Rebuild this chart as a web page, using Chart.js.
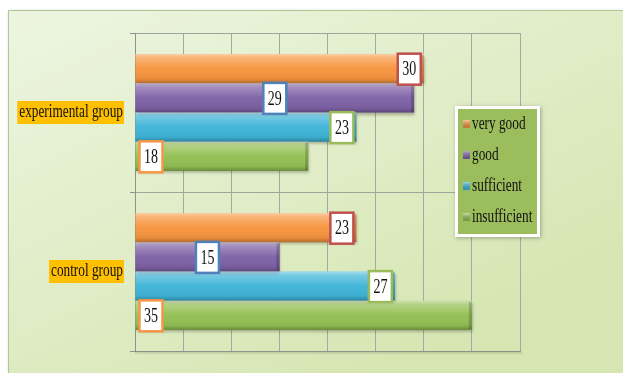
<!DOCTYPE html>
<html>
<head>
<meta charset="utf-8">
<script src="https://cdn.jsdelivr.net/npm/chart.js@4"></script>
<style>
  html, body { margin: 0; padding: 0; background: #fff; }
</style>
</head>
<body>
<canvas id="gradeChart" width="623" height="373"></canvas>
<script>
// groups on the category axis, grades as series
const groups = ['experimental group', 'control group'];
const grades = ['very good', 'good', 'sufficient', 'insufficient'];
const veryGood = [30, 23];
const good = [29, 15];
const sufficient = [23, 27];
const insufficient = [18, 35];
const xTicks = [0, 5, 10, 15, 20, 25, 30, 35, 40];

const barColors = ['#f7953f', '#7f62a6', '#3fb5d8', '#94c054'];
const boxBorders = ['#c0504d', '#4f81bd', '#9bbb59', '#f79646'];
const labelAnchor = ['end', 'center', 'end', 'start'];

const SERIF = '"Liberation Serif", "DejaVu Serif", serif';
const SQUEEZE = 0.7;

// Times-style text drawn narrower, like the original office chart
function squeezedText(ctx, text, x, y, align) {
    ctx.save();
    ctx.translate(x, y);
    ctx.scale(SQUEEZE, 1);
    ctx.textAlign = align;
    ctx.textBaseline = 'middle';
    ctx.fillText(text, 0, 0);
    ctx.restore();
}

const backdrop = {
    id: 'backdrop',
    beforeDraw(chart) {
        const ctx = chart.ctx;
        ctx.save();
        ctx.fillStyle = '#fff';
        ctx.fillRect(0, 0, chart.width, chart.height);
        const g = ctx.createLinearGradient(8, 10, 220, chart.height + 80);
        g.addColorStop(0, '#edf5e1');
        g.addColorStop(1, '#d6e6b2');
        ctx.shadowColor = 'rgba(0,0,0,0.25)';
        ctx.shadowBlur = 3;
        ctx.shadowOffsetX = 1;
        ctx.shadowOffsetY = 1;
        ctx.fillStyle = g;
        ctx.fillRect(8, 10, chart.width, chart.height);
        ctx.shadowColor = 'transparent';
        ctx.strokeStyle = '#aec795';
        ctx.lineWidth = 1;
        ctx.beginPath();
        ctx.moveTo(8.5, chart.height);
        ctx.lineTo(8.5, 10.5);
        ctx.lineTo(chart.width, 10.5);
        ctx.stroke();
        ctx.restore();
    }
};

const barStyle = {
    id: 'barStyle',
    beforeDatasetsDraw(chart) {
        const ctx = chart.ctx;
        ctx.save();
        ctx.shadowColor = 'rgba(0,0,0,0.3)';
        ctx.shadowBlur = 3;
        ctx.shadowOffsetX = 1;
        ctx.shadowOffsetY = 2;
    },
    afterDatasetsDraw(chart) {
        const ctx = chart.ctx;
        ctx.restore();

        // glossy shading on every bar
        chart.data.datasets.forEach((ds, di) => {
            chart.getDatasetMeta(di).data.forEach(bar => {
                const top = bar.y - bar.height / 2;
                const left = Math.min(bar.base, bar.x);
                const w = Math.abs(bar.x - bar.base);
                const g = ctx.createLinearGradient(0, top, 0, top + bar.height);
                g.addColorStop(0, 'rgba(255,255,255,0.55)');
                g.addColorStop(0.12, 'rgba(255,255,255,0.3)');
                g.addColorStop(0.5, 'rgba(255,255,255,0.02)');
                g.addColorStop(0.85, 'rgba(0,0,0,0.06)');
                g.addColorStop(1, 'rgba(0,0,0,0.28)');
                ctx.fillStyle = g;
                ctx.fillRect(left, top, w, bar.height);
                ctx.fillStyle = 'rgba(0,0,0,0.18)';
                ctx.fillRect(bar.x - 3, top + 1, 3, bar.height - 2);
            });
        });

        // value boxes
        chart.data.datasets.forEach((ds, di) => {
            chart.getDatasetMeta(di).data.forEach((bar, i) => {
                const text = String(ds.data[i]);
                ctx.font = '20px ' + SERIF;
                const w = ctx.measureText(text).width * SQUEEZE + 9;
                const h = 31;
                let cx;
                if (labelAnchor[di] === 'end') cx = bar.x - 3 - w / 2;
                else if (labelAnchor[di] === 'start') cx = bar.base + 4 + w / 2;
                else cx = (bar.x + bar.base) / 2;
                const cy = bar.y + 0.5;
                ctx.save();
                ctx.fillStyle = '#fff';
                ctx.fillRect(cx - w / 2, cy - h / 2, w, h);
                ctx.strokeStyle = boxBorders[di];
                ctx.lineWidth = 2.5;
                ctx.strokeRect(cx - w / 2, cy - h / 2, w, h);
                ctx.fillStyle = '#111';
                squeezedText(ctx, text, cx, cy + 1, 'center');
                ctx.restore();
            });
        });
    }
};

const groupLabels = {
    id: 'groupLabels',
    afterDraw(chart) {
        const ctx = chart.ctx;
        const yScale = chart.scales.y;
        const right = chart.chartArea.left - 12;
        ctx.save();
        ctx.font = '19px ' + SERIF;
        groups.forEach((g, i) => {
            const y = yScale.getPixelForValue(i);
            const w = ctx.measureText(g).width * SQUEEZE;
            ctx.fillStyle = '#ffc000';
            ctx.fillRect(right - w - 2, y - 11.5, w + 3, 23);
            ctx.fillStyle = '#111';
            squeezedText(ctx, g, right, y, 'right');
        });

        // faint shadow under the value axis
        const a = chart.chartArea;
        const s = ctx.createLinearGradient(0, a.bottom, 0, a.bottom + 4);
        s.addColorStop(0, 'rgba(0,0,0,0.18)');
        s.addColorStop(1, 'rgba(0,0,0,0)');
        ctx.fillStyle = s;
        ctx.fillRect(a.left, a.bottom + 1, a.right - a.left + 2, 4);
        ctx.restore();
    }
};

const gradeLegend = {
    id: 'gradeLegend',
    afterDraw(chart) {
        const ctx = chart.ctx;
        const x = 455, y = 106, w = 85, h = 131;
        ctx.save();
        ctx.shadowColor = 'rgba(0,0,0,0.3)';
        ctx.shadowBlur = 4;
        ctx.shadowOffsetX = 1;
        ctx.shadowOffsetY = 1;
        ctx.fillStyle = '#fff';
        ctx.fillRect(x, y, w, h);
        ctx.shadowColor = 'transparent';
        ctx.fillStyle = '#9bbd5c';
        ctx.fillRect(x + 3, y + 3, w - 6, h - 6);
        ctx.font = '19px ' + SERIF;
        chart.data.datasets.forEach((ds, i) => {
            const iy = y + 18 + i * 31;
            ctx.fillStyle = ds.backgroundColor;
            ctx.fillRect(x + 8, iy - 4, 7, 8);
            const g = ctx.createLinearGradient(0, iy - 4, 0, iy + 4);
            g.addColorStop(0, 'rgba(255,255,255,0.45)');
            g.addColorStop(1, 'rgba(0,0,0,0.2)');
            ctx.fillStyle = g;
            ctx.fillRect(x + 8, iy - 4, 7, 8);
            ctx.fillStyle = '#111';
            squeezedText(ctx, ds.label, x + 17, iy, 'left');
        });
        ctx.restore();
    }
};

const series = [veryGood, good, sufficient, insufficient];

new Chart(document.getElementById('gradeChart'), {
    type: 'bar',
    data: {
        labels: groups,
        datasets: grades.map((name, i) => ({
            label: name,
            data: series[i],
            backgroundColor: barColors[i],
            borderWidth: 0,
            categoryPercentage: 0.735,
            barPercentage: 1.0
        }))
    },
    options: {
        indexAxis: 'y',
        responsive: false,
        devicePixelRatio: 1,
        animation: false,
        layout: { padding: { left: 0, top: 33, right: 103, bottom: 22 } },
        scales: {
            x: {
                min: xTicks[0],
                max: xTicks[xTicks.length - 1],
                afterBuildTicks(scale) {
                    scale.ticks = xTicks.map(v => ({ value: v }));
                },
                afterFit(scale) { scale.height = 0; },
                ticks: { display: false },
                grid: { color: '#a3aaa0', lineWidth: 1, drawTicks: false },
                border: { color: '#8d928a', width: 1 }
            },
            y: {
                afterFit(scale) { scale.width = 135; },
                ticks: { display: false },
                grid: { offset: true, color: '#9ea59b', tickLength: 5, tickColor: '#8d928a' },
                border: { color: '#8d928a', width: 1 }
            }
        },
        plugins: {
            legend: { display: false },
            tooltip: { enabled: false }
        }
    },
    plugins: [backdrop, barStyle, groupLabels, gradeLegend]
});
</script>
</body>
</html>
